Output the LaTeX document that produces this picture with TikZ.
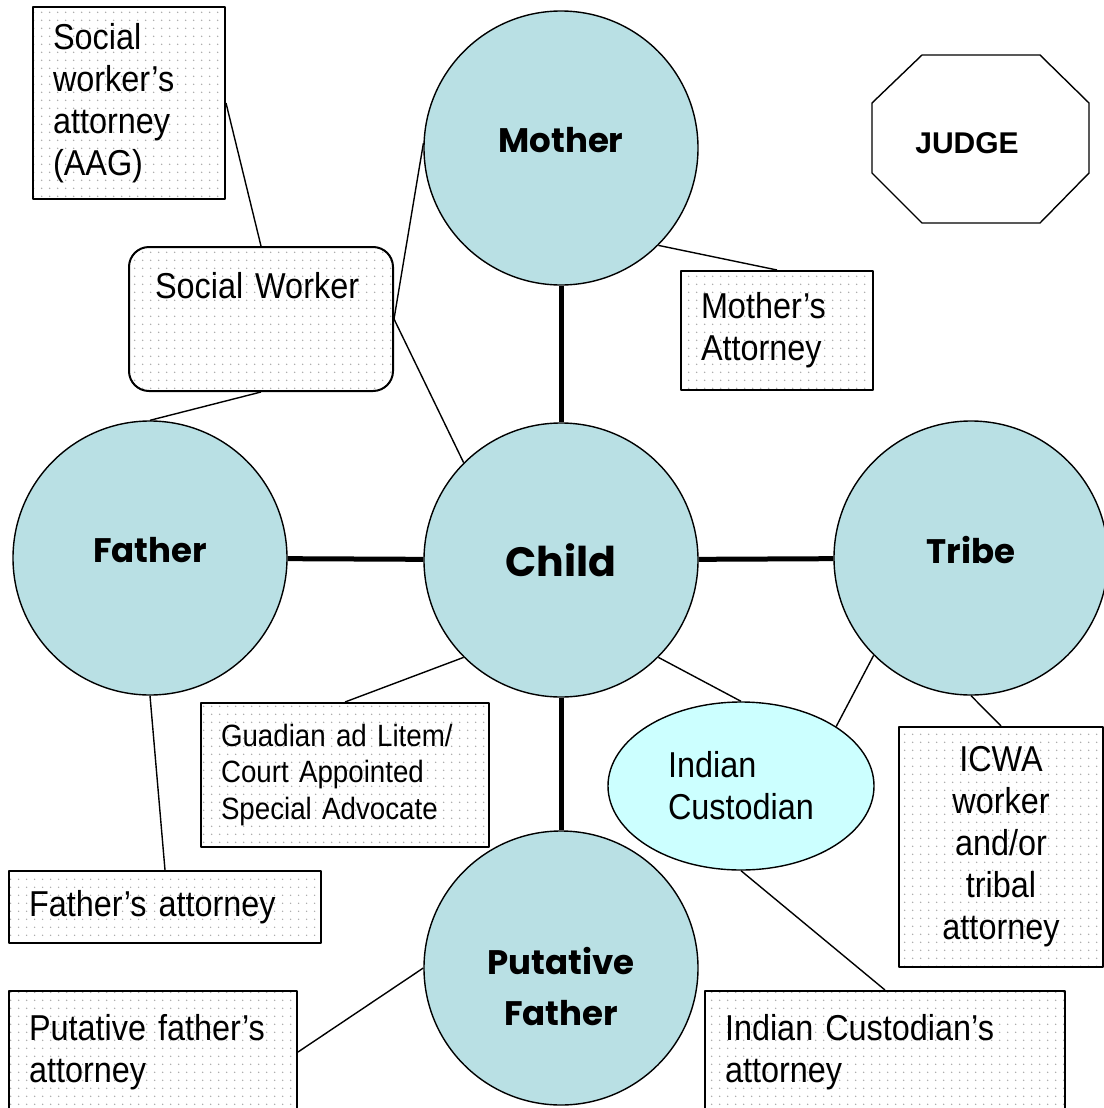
\documentclass[tikz,border=0pt]{standalone}
\usepackage{fontspec}
\usepackage{tikz}
\usetikzlibrary{shapes,shapes.geometric,patterns.meta,calc}
\newfontfamily\boxfont[FakeStretch=0.9]{Liberation Sans}
\newfontfamily\judgefont{Liberation Sans}
\newfontfamily\circfont{Poppins}
\definecolor{circfill}{RGB}{185,224,228}
\definecolor{icfill}{RGB}{204,255,255}
\tikzdeclarepattern{
  name=speckle,
  type=colored,
  bottom left={(0pt,0pt)},
  top right={(3.85pt,3.85pt)},
  tile size={(3.85pt,3.85pt)},
  code={\fill[black!35] (1.9pt,1.9pt) circle (0.4pt);}
}
\tikzset{
  party/.style={draw,circle,line width=0.7pt,fill=circfill,minimum size=137pt,inner sep=0pt,%
    align=center,text depth=8pt,font=\circfont\bfseries\fontsize{17}{25.5}\selectfont},
  atty/.style={draw,line width=1pt,preaction={fill=white},pattern=speckle,inner xsep=10pt,%
    inner ysep=0pt,align=left,font=\boxfont\fontsize{18}{21}\selectfont},
  link/.style={line width=0.7pt},
  bond/.style={line width=2.5pt},
}
\begin{document}
\begin{tikzpicture}[x=0.5pt,y=-0.5pt,line join=bevel]
\useasboundingbox (0,0) rectangle (1103,1108);
%%
\node (mother) at (561,148) [party] {Mother};
  \node (child) at (561,560) [party,text depth=0pt,font=\circfont\bfseries\fontsize{20.5}{24}\selectfont] {Child};
  \node (father) at (150,558) [party] {Father};
  \node (tribe) at (971,558) [party] {Tribe};
  \node (putative) at (561,968) [party,text height=70pt,text depth=13pt] {Putative\\Father};
  \node (custodian) at (741,786) [draw,ellipse,line width=0.7pt,fill=icfill,minimum width=133pt,%
    minimum height=84pt,inner sep=0pt,align=left,font=\boxfont\fontsize{18}{21}\selectfont] {Indian\\Custodian};
%
  \node (swatty) at (129,103) [atty,text width=76pt,minimum height=96pt] {Social\\worker’s\\attorney\\(AAG)};
  \node (sw) at (261,319) [atty,rounded corners=10pt,text width=106pt,inner xsep=13pt,inner ysep=12.5pt,%
    text height=13pt,text depth=34pt] {Social Worker};
  \node (matty) at (777,330.5) [atty,text width=76pt,minimum height=59.5pt] {Mother’s\\Attorney};
  \node (gal) at (345,775) [atty,text width=124pt,minimum height=72pt,%
    font=\boxfont\fontsize{15.4}{18.25}\selectfont] {Guadian ad Litem/\\Court Appointed\\Special Advocate};
  \node (fatty) at (165,907) [atty,text width=136pt,minimum height=36pt] {Father’s attorney};
  \node (pfatty) at (153,1052) [atty,text width=124pt,minimum height=61pt] {Putative father’s\\attorney};
  \node (icatty) at (885,1052) [atty,text width=160pt,minimum height=61pt] {Indian Custodian’s\\attorney};
  \node (icwa) at (1001,847) [atty,text width=82pt,minimum height=120pt,align=center] {ICWA\\worker\\and/or\\tribal\\attorney};
%
  \draw [line width=0.7pt] (922,55) -- (1040,55) -- (1089,103) -- (1089,173) -- (1040,223)
    -- (922,223) -- (872,173) -- (872,103) -- cycle;
  \node (judge) at (967,143) [font=\judgefont\bfseries\fontsize{15}{18}\selectfont] {JUDGE};
%
  \draw [bond] (mother) -- (child);
  \draw [bond] (father) -- (child);
  \draw [bond] (child) -- (tribe);
  \draw [bond] (child) -- (putative);
  \draw [link] (swatty.east) -- (sw.north);
  \draw [link] (mother.178) -- (sw.east) -- (child.135);
  \draw [link] (sw.south) -- (father.north);
  \draw [link] (mother.-45) -- (matty.north);
  \draw [link] (child.225) -- (gal.north);
  \draw [link] (child.-45) -- (custodian.north);
  \draw [link] (tribe.225) -- (custodian.32);
  \draw [link] (tribe.south) -- (icwa.north);
  \draw [link] (father.south) -- (fatty.north);
  \draw [link] (putative.west) -- (pfatty.east);
  \draw [link] (custodian.south) -- (icatty.north);
%
\end{tikzpicture}
\end{document}
